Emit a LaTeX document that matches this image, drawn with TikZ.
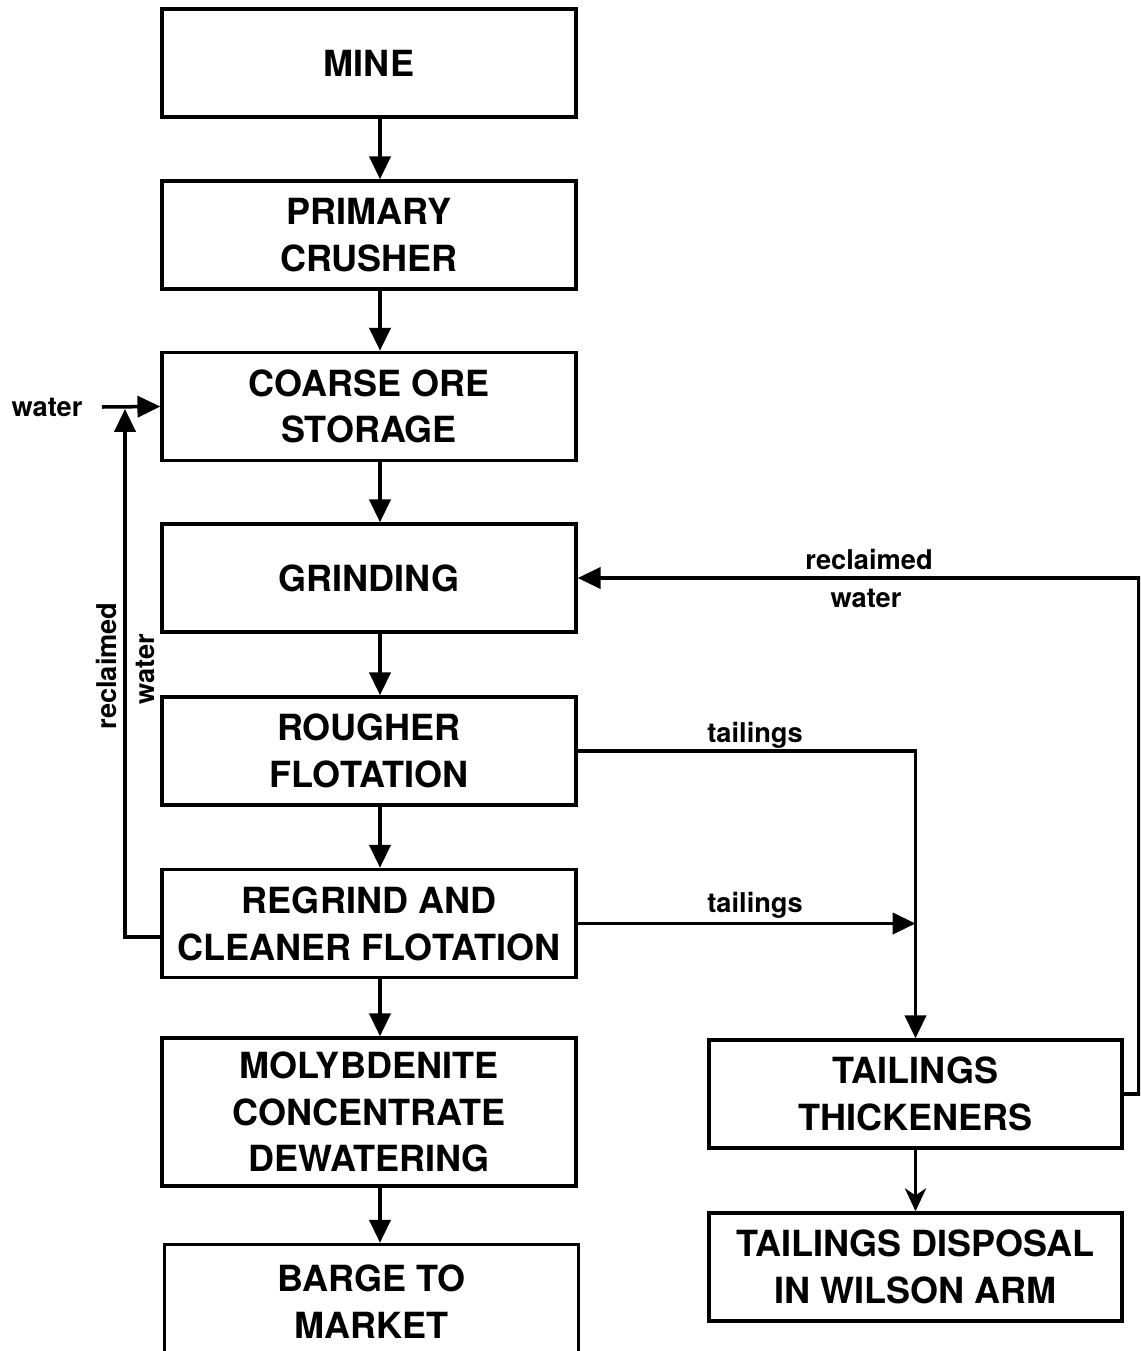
\documentclass[tikz,border=0pt]{standalone}
\usepackage{fontspec}
\setmainfont{TeX Gyre Heros}
\usetikzlibrary{arrows.meta}

\tikzset{
  unit/.style={draw, line width=2pt, minimum width=8.28cm, minimum height=2.16cm,
               inner sep=0pt, align=center, font=\fontsize{20.5}{26.6}\selectfont\bfseries},
  flow/.style={line width=2pt, -{Triangle[length=13pt,width=12pt]}},
  pipe/.style={line width=2pt},
  tag/.style={font=\fontsize{15.5}{20}\selectfont\bfseries, inner sep=0pt}
}

\begin{document}
\begin{tikzpicture}[x=0.02cm, y=-0.02cm]
                \path[use as bounding box, clip] (0,0) rectangle (1140,1351);

                % main line
                \node[unit] (mine)     at (369,63)     {MINE};
                \node[unit] (crusher)  at (369,235)    {PRIMARY\\CRUSHER};
                \node[unit] (storage)  at (369,406.5)  {COARSE ORE\\STORAGE};
                \node[unit] (grinding) at (369,578)    {GRINDING};
                \node[unit] (rougher)  at (369,751)    {ROUGHER\\FLOTATION};
                \node[unit] (regrind)  at (369,923.5)  {REGRIND AND\\CLEANER FLOTATION};
                \node[unit, minimum height=2.96cm] (moly) at (369,1112)
                      {MOLYBDENITE\\CONCENTRATE\\DEWATERING};
                \node[unit, minimum height=2.3cm] (barge) at (371.5,1302) {BARGE TO\\MARKET};

                % tailings side
                \node[unit, minimum width=8.26cm] (thick)    at (915.5,1094) {TAILINGS\\THICKENERS};
                \node[unit, minimum width=8.26cm] (disposal) at (915.5,1267) {TAILINGS DISPOSAL\\IN WILSON ARM};

                \coordinate (wstart) at (102,407);
                \coordinate (lft)    at (125,409);
                \coordinate (rtop)   at (1139,578);

                % the arrows down the main line
                \foreach \a/\b in {mine/crusher, crusher/storage, storage/grinding,
                                   grinding/rougher, rougher/regrind, regrind/moly}
                  \draw [flow] ([xshift=0.22cm]\a.south) -- ([xshift=0.22cm]\b.north);
                \draw [flow] ([xshift=0.22cm]moly.south) -- ([xshift=0.22cm]moly.south |- barge.north);

                % water in
                \node[tag] (win) at (47,407) {water};
                \draw [flow] (wstart) -- (storage.west);
                \draw [flow] ([yshift=-0.27cm]regrind.west) -| (lft);
                \node[tag, rotate=90] (rwa) at (106,666) {reclaimed};
                \node[tag, rotate=90] (rwb) at (145,669) {water};

                % tailings
                \draw [flow] (rougher.east) -| (thick.north);
                \draw [flow] (regrind.east) -- (regrind.east -| thick.north);
                \node[tag] (ta) at (755,735) {tailings};
                \node[tag] (tb) at (755,905) {tailings};
                \draw [pipe, -{Stealth[length=13pt,width=12pt,inset=4pt]}] (thick.south) -- (disposal.north);

                % reclaimed water back to grinding
                \draw [flow] (thick.east) -| (rtop) -- (grinding.east);
                \node[tag] (rwc) at (869,559) {reclaimed};
                \node[tag] (rwd) at (866,598) {water};
              \end{tikzpicture}
\end{document}
